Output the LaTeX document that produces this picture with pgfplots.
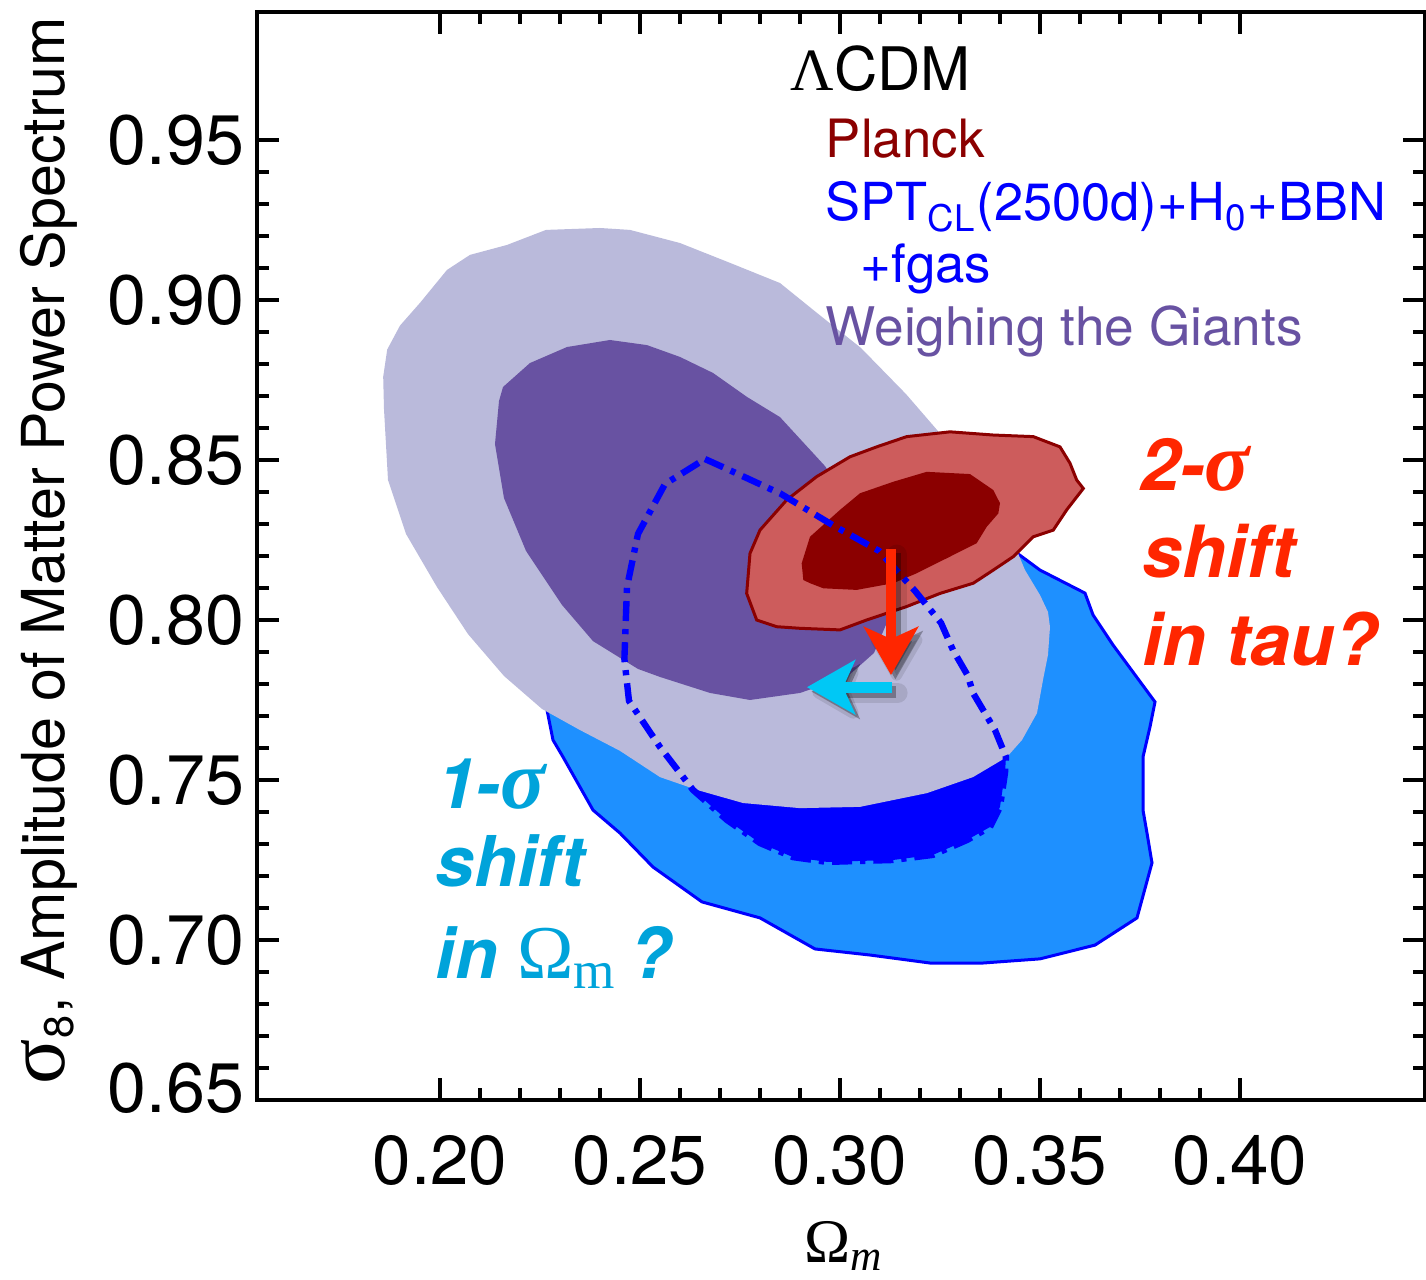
\documentclass[border=0pt]{standalone}
\usepackage{fontspec}
\setmainfont{TeX Gyre Heros}
\newfontfamily\serifgr{Liberation Serif}
\usepackage{pgfplots}
\pgfplotsset{compat=1.18}
\usetikzlibrary{arrows.meta}
\definecolor{wtglight}{RGB}{186,186,219}
\definecolor{wtgdark}{RGB}{104,82,162}
\definecolor{sptlight}{RGB}{30,144,255}
\definecolor{sptdark}{RGB}{0,0,255}
\definecolor{plancklight}{RGB}{205,92,92}
\definecolor{planckdark}{RGB}{139,0,0}
\definecolor{redarrow}{RGB}{255,38,0}
\definecolor{cyanarrow}{RGB}{0,200,245}
\definecolor{cyantext}{RGB}{0,163,218}
\begin{document}
\begin{tikzpicture}
\begin{axis}[
  at={(0,0)}, anchor=south west,
  scale only axis, width=292pt, height=272pt,
  xmin=0.15425, xmax=0.44625, ymin=0.65, ymax=0.99,
  axis line style={line width=1pt},
  xtick={0.20,0.25,0.30,0.35,0.40},
  xticklabels={0.20,0.25,0.30,0.35,0.40},
  ytick={0.65,0.70,0.75,0.80,0.85,0.90,0.95},
  yticklabels={\raisebox{6pt}{0.65},0.70,0.75,0.80,0.85,0.90,0.95},
  minor x tick num=4, minor y tick num=4,
  tick align=inside,
  major tick length=5.6pt, minor tick length=2.9pt,
  every tick/.style={black, line width=0.9pt},
  xticklabel style={font=\fontsize{17.3}{20}\selectfont, yshift=-5.3pt},
  yticklabel style={font=\fontsize{17.5}{20}\selectfont, xshift=0.3pt},
  /pgf/number format/assume math mode=true,
  every axis x label/.style={at={(axis description cs:0.503,-0.149)}, anchor=base, font=\fontsize{15.5}{18}\selectfont},
  every axis y label/.style={at={(axis description cs:-0.165,0.505)}, rotate=90, anchor=base, font=\fontsize{14.8}{17}\selectfont},
  xlabel={{\serifgr Ω}\textsubscript{\serifgr\itshape m}},
  ylabel={{\serifgr\fontsize{21}{21}\selectfont σ}\textsubscript{8}, Amplitude of Matter Power Spectrum},
]
% SPT 2-sigma
\addplot[fill=sptlight, draw=sptdark, line width=0.75pt] coordinates {
(0.22625,0.775) (0.22825,0.7625) (0.23075,0.7572) (0.23825,0.7406) (0.245,0.7334)
(0.25325,0.7228) (0.2655,0.7119) (0.28,0.7069) (0.29375,0.6972) (0.3075,0.6953)
(0.3225,0.6928) (0.33575,0.6928) (0.35,0.6941) (0.36375,0.6984) (0.37425,0.7069)
(0.378,0.7241) (0.37675,0.7334) (0.37575,0.7406) (0.37575,0.7572) (0.3775,0.7666)
(0.37875,0.7744) (0.36825,0.7922) (0.36325,0.8016) (0.36125,0.8084) (0.35,0.8156)
(0.34425,0.8209) (0.3375,0.825) (0.315,0.81875) (0.265,0.8) (0.24,0.7875)
} -- cycle;
% SPT 1-sigma fill
\addplot[fill=sptdark, draw=none] coordinates {
(0.26625,0.8503) (0.27175,0.8472) (0.28525,0.8394) (0.2985,0.8294) (0.30975,0.8216)
(0.31875,0.8091) (0.32525,0.7991) (0.32825,0.7906) (0.332,0.7825) (0.33325,0.7772)
(0.33875,0.7656) (0.3415,0.7572) (0.34125,0.7522) (0.34,0.7416) (0.3375,0.7353)
(0.33175,0.73125) (0.32325,0.7266) (0.31325,0.725) (0.29675,0.7244) (0.28825,0.7259)
(0.28,0.7303) (0.27175,0.7375) (0.26325,0.7469) (0.255,0.7603) (0.24725,0.7747)
(0.2461,0.7878) (0.24675,0.8103) (0.2495,0.8269) (0.25625,0.8425)
} -- cycle;
% WtG outer
\addplot[fill=wtglight, draw=none] coordinates {
(0.2265,0.9219) (0.24,0.9225) (0.2475,0.9219) (0.26,0.9178) (0.2725,0.9116)
(0.285,0.9053) (0.294,0.8962) (0.30525,0.8850) (0.3165,0.8706) (0.32425,0.8594)
(0.3325,0.8469) (0.34,0.8328) (0.34425,0.8216) (0.34625,0.8156) (0.35,0.8078)
(0.352,0.8025) (0.3525,0.7978) (0.352,0.7891) (0.35075,0.78125) (0.34925,0.7709)
(0.3455,0.7625) (0.34175,0.7572) (0.33325,0.7509) (0.32175,0.7459) (0.305,0.7416)
(0.29,0.7412) (0.27575,0.7428) (0.26425,0.7469) (0.255,0.7509) (0.245,0.7591)
(0.235,0.7656) (0.2255,0.7722) (0.216,0.7825) (0.207,0.7956) (0.19925,0.8103)
(0.1915,0.8269) (0.187,0.84375) (0.186,0.8659) (0.1858,0.876) (0.1868,0.8845)
(0.1900,0.8920) (0.195,0.8991) (0.20175,0.9094) (0.2075,0.9141) (0.21675,0.9172)
} -- cycle;
% WtG inner
\addplot[fill=wtgdark, draw=none] coordinates {
(0.2425,0.8875) (0.25175,0.8859) (0.26,0.8822) (0.26825,0.8772) (0.27675,0.8697)
(0.285,0.8634) (0.29625,0.8481) (0.305,0.83125) (0.31,0.8156) (0.312,0.8)
(0.3085,0.7897) (0.30175,0.7822) (0.29,0.7772) (0.2775,0.775) (0.2675,0.7772)
(0.255,0.7822) (0.2495,0.7847) (0.23825,0.7934) (0.2305,0.8047) (0.2215,0.8216)
(0.216,0.8381) (0.21375,0.855) (0.21475,0.8684) (0.21575,0.8728) (0.2225,0.8803)
(0.23175,0.8853)
} -- cycle;
% Planck 2-sigma
\addplot[fill=plancklight, draw=planckdark, line width=0.75pt] coordinates {
(0.27667,0.8083) (0.2775,0.8208) (0.28,0.8281) (0.28667,0.8375) (0.29417,0.8448)
(0.3025,0.851) (0.30917,0.8541) (0.31667,0.8573) (0.3275,0.8588) (0.33833,0.8578)
(0.34833,0.8573) (0.355,0.8541) (0.3575,0.849) (0.35917,0.84375) (0.36083,0.8411)
(0.35667,0.8344) (0.35333,0.8281) (0.34833,0.826) (0.34333,0.8198) (0.33833,0.8156)
(0.33333,0.8115) (0.325,0.8083) (0.31667,0.8042) (0.30667,0.8) (0.3,0.7969)
(0.29,0.7974) (0.28417,0.7979) (0.27917,0.8)
} -- cycle;
% Planck 1-sigma
\addplot[fill=planckdark, draw=none] coordinates {
(0.29083,0.8125) (0.29042,0.8177) (0.2925,0.826) (0.3,0.8344) (0.305,0.8396)
(0.31333,0.8432) (0.32167,0.8463) (0.3325,0.8456) (0.33833,0.8406) (0.34,0.8365)
(0.33958,0.8333) (0.33667,0.8291) (0.33417,0.824) (0.3275,0.8198) (0.31917,0.8146)
(0.31333,0.8115) (0.30417,0.8094) (0.29583,0.8099) (0.2925,0.8115)
} -- cycle;
% SPT 1-sigma outline (dash-dot)
\addplot[draw=sptdark, line width=1.6pt, dash pattern=on 5pt off 2pt on 1.3pt off 2pt] coordinates {
(0.26625,0.8503) (0.27175,0.8472) (0.28525,0.8394) (0.2985,0.8294) (0.30975,0.8216)
(0.31875,0.8091) (0.32525,0.7991) (0.32825,0.7906) (0.332,0.7825) (0.33325,0.7772)
(0.33875,0.7656) (0.3415,0.7572) (0.34125,0.7522) (0.34,0.7416) (0.3375,0.7353)
(0.33175,0.73125) (0.32325,0.7266) (0.31325,0.725) (0.29675,0.7244) (0.28825,0.7259)
(0.28,0.7303) (0.27175,0.7375) (0.26325,0.7469) (0.255,0.7603) (0.24725,0.7747)
(0.2461,0.7878) (0.24675,0.8103) (0.2495,0.8269) (0.25625,0.8425)
} -- cycle;
% arrow shadows
\addplot[black, opacity=0.10, line width=5pt, line cap=round, -{Stealth[length=14pt,width=16pt,inset=3pt,round]}, xshift=1.4pt, yshift=-1.4pt] coordinates {(0.31275,0.8222) (0.31275,0.7828)};
\addplot[black, opacity=0.30, line width=3pt, -{Stealth[length=12pt,width=13.5pt,inset=3pt]}, xshift=1.1pt, yshift=-1.1pt] coordinates {(0.31275,0.8222) (0.31275,0.7828)};
\addplot[black, opacity=0.10, line width=5pt, line cap=round, -{Stealth[length=14pt,width=16pt,inset=3pt,round]}, xshift=1.4pt, yshift=-1.4pt] coordinates {(0.313,0.779) (0.29175,0.779)};
\addplot[black, opacity=0.30, line width=3pt, -{Stealth[length=12pt,width=13.5pt,inset=3pt]}, xshift=1.1pt, yshift=-1.1pt] coordinates {(0.313,0.779) (0.29175,0.779)};
% arrows
\addplot[redarrow, line width=2.6pt, -{Stealth[length=12pt,width=13.5pt,inset=3pt]}] coordinates {(0.31275,0.8222) (0.31275,0.7828)};
\addplot[cyanarrow, line width=2.8pt, -{Stealth[length=12pt,width=13.5pt,inset=3pt]}] coordinates {(0.313,0.779) (0.29175,0.779)};
% legend texts
\node[anchor=base west, font=\fontsize{15}{18}\selectfont, inner sep=0pt] at (axis cs:0.2875,0.9656) {{\serifgr Λ}CDM};
\node[anchor=base west, font=\fontsize{13.2}{16}\selectfont, text=planckdark, inner sep=0pt] at (axis cs:0.29625,0.9444) {Planck};
\node[anchor=base west, font=\fontsize{13.1}{16}\selectfont, text=sptdark, inner sep=0pt] at (axis cs:0.29625,0.9247) {SPT\textsubscript{CL}(2500d)+H\textsubscript{0}+BBN};
\node[anchor=base west, font=\fontsize{13.2}{16}\selectfont, text=sptdark, inner sep=0pt] at (axis cs:0.305,0.9056) {+fgas};
\node[anchor=base west, font=\fontsize{13.3}{16}\selectfont, text=wtgdark, inner sep=0pt] at (axis cs:0.29625,0.8859) {Weighing the Giants};
% annotations
\node[anchor=base west, font=\fontsize{18}{21}\selectfont\bfseries\itshape, text=redarrow, inner sep=0pt] at (axis cs:0.375,0.8406) {2-{\serifgr\fontsize{21}{21}\selectfont σ}};
\node[anchor=base west, font=\fontsize{18}{21}\selectfont\bfseries\itshape, text=redarrow, inner sep=0pt] at (axis cs:0.3755,0.8134) {shift};
\node[anchor=base west, font=\fontsize{18}{21}\selectfont\bfseries\itshape, text=redarrow, inner sep=0pt] at (axis cs:0.3755,0.7859) {in tau?};
\node[anchor=base west, font=\fontsize{17.5}{21}\selectfont\bfseries\itshape, text=cyantext, inner sep=0pt] at (axis cs:0.19925,0.7412) {1-{\serifgr\fontsize{21}{21}\selectfont σ}};
\node[anchor=base west, font=\fontsize{17.5}{21}\selectfont\bfseries\itshape, text=cyantext, inner sep=0pt] at (axis cs:0.19875,0.7166) {shift};
\node[anchor=base west, font=\fontsize{17.5}{21}\selectfont\bfseries\itshape, text=cyantext, inner sep=0pt] at (axis cs:0.19875,0.6881) {in {\serifgr\mdseries\upshape\fontsize{19}{21}\selectfont Ω\textsubscript{m}}\,?};
\end{axis}
\pgfresetboundingbox
\path[use as bounding box] (-64.25pt,-45pt) rectangle (292.25pt,275pt);
\end{tikzpicture}
\end{document}
